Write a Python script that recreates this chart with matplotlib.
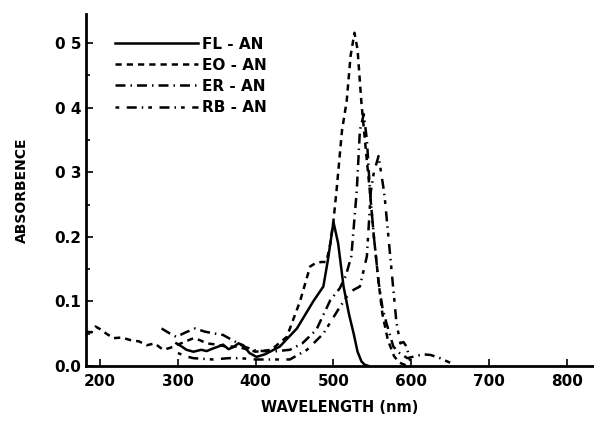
import numpy as np
import matplotlib.pyplot as plt

# absorbance spectra
fl_wl = [298, 305, 311, 320, 330, 337, 345, 352, 358, 365, 371, 378, 384, 392, 401,
         412, 431, 453, 474, 487, 493, 500, 506, 513, 520, 526, 531, 536, 540, 545]
fl_ab = [0.035, 0.030, 0.025, 0.022, 0.025, 0.023, 0.027, 0.030, 0.033, 0.026, 0.029,
         0.035, 0.032, 0.020, 0.014, 0.018, 0.030, 0.058, 0.100, 0.123, 0.165, 0.223,
         0.190, 0.123, 0.080, 0.050, 0.022, 0.007, 0.002, 0.0]

eo_wl = [183, 189, 194, 200, 208, 217, 228, 239, 250, 260, 270, 281, 290, 298, 310,
         320, 328, 337, 350, 362, 375, 388, 400, 420, 440, 457, 470, 478, 485, 491,
         496, 500, 504, 511, 517, 522, 527, 531, 536, 542, 547, 552, 558, 563, 570,
         578, 585, 595]
eo_ab = [0.053, 0.052, 0.061, 0.057, 0.050, 0.043, 0.044, 0.040, 0.038, 0.032, 0.035,
         0.025, 0.028, 0.032, 0.038, 0.043, 0.040, 0.035, 0.033, 0.030, 0.030, 0.026,
         0.022, 0.025, 0.045, 0.100, 0.154, 0.160, 0.161, 0.161, 0.190, 0.225, 0.272,
         0.365, 0.410, 0.480, 0.516, 0.490, 0.407, 0.330, 0.268, 0.200, 0.130, 0.080,
         0.040, 0.015, 0.005, 0.0]

er_wl = [279, 290, 298, 310, 322, 335, 348, 358, 370, 385, 400, 420, 444, 460, 478,
         496, 508, 516, 523, 530, 534, 539, 543, 547, 552, 558, 563, 568, 577, 585,
         595, 605, 615, 625, 637, 650]
er_ab = [0.058, 0.050, 0.045, 0.052, 0.058, 0.053, 0.050, 0.048, 0.040, 0.030, 0.024,
         0.022, 0.025, 0.035, 0.056, 0.102, 0.120, 0.140, 0.170, 0.272, 0.365, 0.390,
         0.350, 0.270, 0.200, 0.130, 0.090, 0.067, 0.030, 0.020, 0.012, 0.015, 0.018,
         0.017, 0.012, 0.005]

rb_wl = [300, 310, 320, 345, 365, 380, 400, 420, 444, 466, 487, 506, 517, 526, 534,
         543, 548, 552, 558, 564, 566, 573, 581, 586, 590, 594, 598, 605]
rb_ab = [0.020, 0.015, 0.012, 0.010, 0.012, 0.012, 0.010, 0.010, 0.010, 0.025, 0.050,
         0.087, 0.107, 0.118, 0.123, 0.170, 0.270, 0.300, 0.325, 0.278, 0.260, 0.170,
         0.067, 0.035, 0.037, 0.030, 0.010, 0.0]

labels = ['FL - AN', 'EO - AN', 'ER - AN', 'RB - AN']
xticks = [200, 300, 400, 500, 600, 700, 800]
yticks = [0.0, 0.1, 0.2, 0.3, 0.4, 0.5]
ytick_labels = ['0.0', '0.1', '0.2', '0 3', '0 4', '0 5']

plt.rcParams['font.family'] = 'DejaVu Sans'
plt.rcParams['font.weight'] = 'bold'

fig = plt.figure(figsize=(5.94, 4.26), dpi=100)
ax = fig.add_axes([0.145, 0.141, 0.855, 0.826])

ax.plot(fl_wl, fl_ab, color='black', lw=1.8, ls='-', label=labels[0])
ax.plot(eo_wl, eo_ab, color='black', lw=1.8, ls=(0, (2.5, 2.0)), label=labels[1])
ax.plot(er_wl, er_ab, color='black', lw=1.8, ls=(0, (4, 2, 0.6, 2)), label=labels[2])
ax.plot(rb_wl, rb_ab, color='black', lw=1.8, ls=(0, (1.5, 3, 4, 2, 0.6, 2)), label=labels[3])

ax.set_xlim(182, 835)
ax.set_ylim(0, 0.545)
ax.set_xticks(xticks)
ax.set_yticks(yticks)
ax.set_yticklabels(ytick_labels)
ax.set_yticks(np.arange(0.05, 0.55, 0.1), minor=True)
ax.tick_params(axis='both', direction='in', length=5, width=1.2, labelsize=11)
ax.tick_params(axis='y', which='minor', direction='in', length=3, width=1.2)
ax.tick_params(axis='x', pad=6)

for side in ['top', 'right']:
    ax.spines[side].set_visible(False)
ax.spines['left'].set_linewidth(2)
ax.spines['bottom'].set_linewidth(2)

ax.set_xlabel('WAVELENGTH (nm)', fontsize=10.5, fontweight='bold', labelpad=8)
ax.set_ylabel('ABSORBENCE', fontsize=10, fontweight='bold', labelpad=18)

ax.legend(loc='upper left', bbox_to_anchor=(0.03, 0.975), frameon=False,
          handlelength=5.4, handletextpad=0.3, labelspacing=0.4, fontsize=11)

plt.savefig('out.png', dpi=100)
